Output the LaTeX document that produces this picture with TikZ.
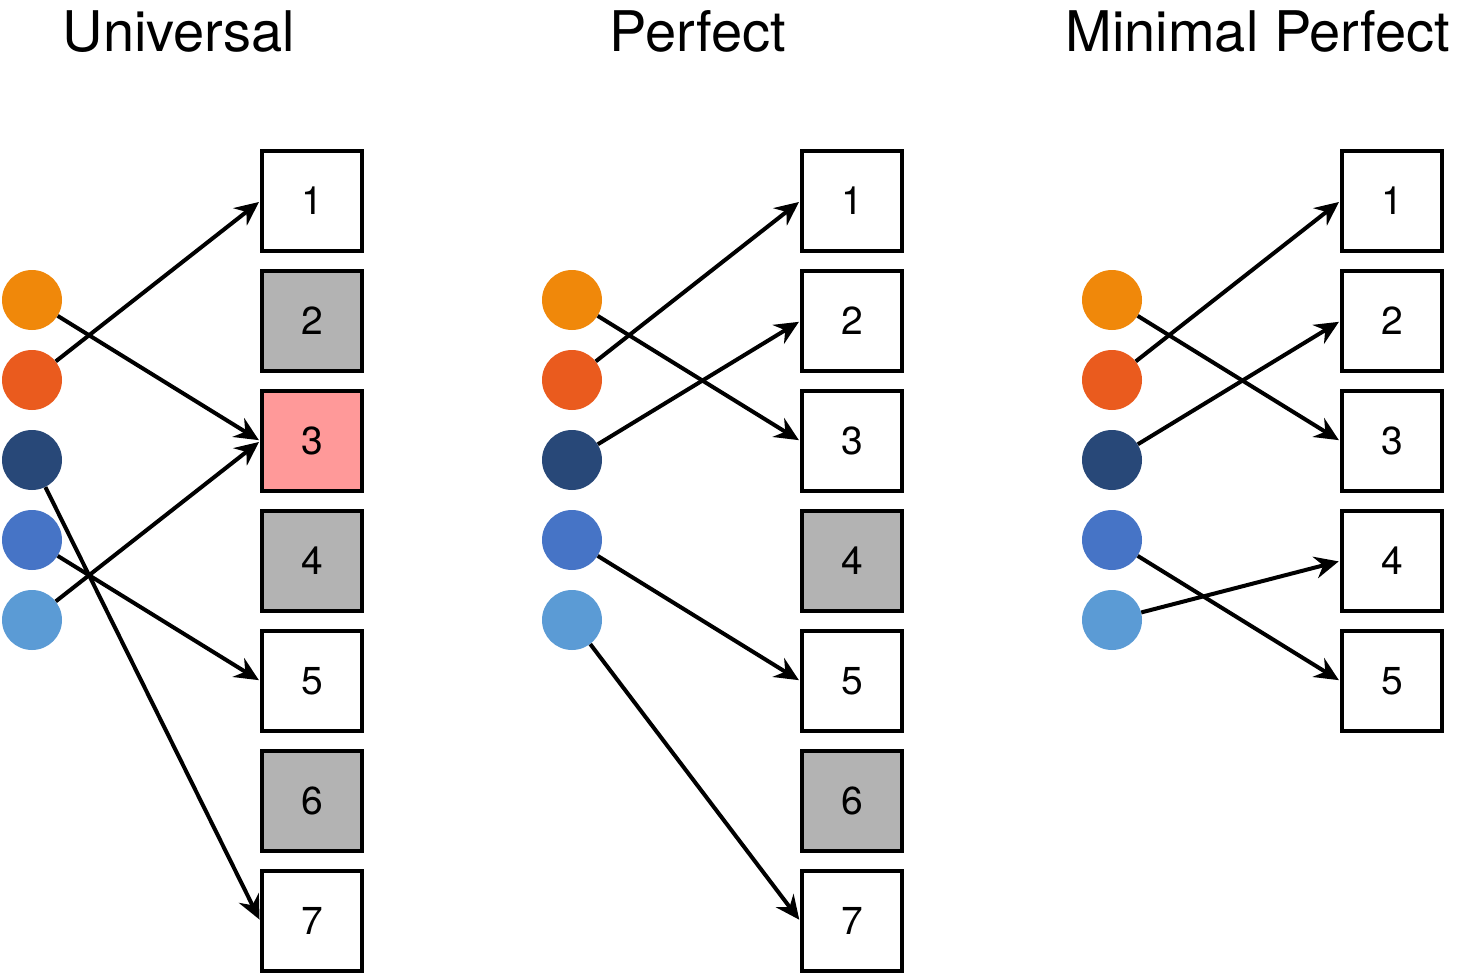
\documentclass[tikz,border=0pt]{standalone}
\usepackage{fontspec}
\setmainfont{TeX Gyre Heros}
\usetikzlibrary{arrows.meta}
\definecolor{cOrange}{HTML}{F0880A}
\definecolor{cRed}{HTML}{EA5B1E}
\definecolor{cNavy}{HTML}{284878}
\definecolor{cBlue}{HTML}{4674C6}
\definecolor{cLight}{HTML}{5B9BD5}
\definecolor{slotGray}{HTML}{B3B3B3}
\definecolor{slotPink}{HTML}{FF9999}
\tikzset{
  key/.style={circle, minimum size=60pt, inner sep=0pt, fill=#1},
  slot/.style={draw=black, line width=3.5pt, fill=#1, minimum size=100pt, inner sep=0pt,
               font=\fontsize{39}{40}\selectfont},
  slot/.default=white,
  title/.style={anchor=base, font=\fontsize{56}{60}\selectfont},
  map/.style={line width=4pt, shorten >=1.6pt,
              -{Stealth[length=24pt,width=22pt,inset=8pt]}},
}
\begin{document}
\begin{tikzpicture}[x=1pt,y=-1pt]
\useasboundingbox (0,0) rectangle (1464,974);

% titles
\node[title] (tU) at (179,52) {Universal};
\node[title] (tP) at (698,52) {Perfect};
\node[title] (tM) at (1258,52) {Minimal Perfect};

% keys of each panel
\foreach \p/\x in {U/32, P/572, M/1112} {
  \node[key=cOrange] (\p k1) at (\x,300) {};
  \node[key=cRed]    (\p k2) at (\x,380) {};
  \node[key=cNavy]   (\p k3) at (\x,460) {};
  \node[key=cBlue]   (\p k4) at (\x,540) {};
  \node[key=cLight]  (\p k5) at (\x,620) {};
}

% Universal table
\node[slot]          (Ub1) at (312,201) {1};
\node[slot=slotGray] (Ub2) at (312,321) {2};
\node[slot=slotPink] (Ub3) at (312,441) {3};
\node[slot=slotGray] (Ub4) at (312,561) {4};
\node[slot]          (Ub5) at (312,681) {5};
\node[slot=slotGray] (Ub6) at (312,801) {6};
\node[slot]          (Ub7) at (312,921) {7};

% Perfect table
\node[slot]          (Pb1) at (852,201) {1};
\node[slot]          (Pb2) at (852,321) {2};
\node[slot]          (Pb3) at (852,441) {3};
\node[slot=slotGray] (Pb4) at (852,561) {4};
\node[slot]          (Pb5) at (852,681) {5};
\node[slot=slotGray] (Pb6) at (852,801) {6};
\node[slot]          (Pb7) at (852,921) {7};

% Minimal perfect table
\node[slot] (Mb1) at (1392,201) {1};
\node[slot] (Mb2) at (1392,321) {2};
\node[slot] (Mb3) at (1392,441) {3};
\node[slot] (Mb4) at (1392,561) {4};
\node[slot] (Mb5) at (1392,681) {5};

% mappings
\draw[map] (Uk1) -- (Ub3.west);
\draw[map] (Uk2) -- (Ub1.west);
\draw[map] (Uk3) -- (Ub7.west);
\draw[map] (Uk4) -- (Ub5.west);
\draw[map] (Uk5) -- (Ub3.west);

\draw[map] (Pk1) -- (Pb3.west);
\draw[map] (Pk2) -- (Pb1.west);
\draw[map] (Pk3) -- (Pb2.west);
\draw[map] (Pk4) -- (Pb5.west);
\draw[map] (Pk5) -- (Pb7.west);

\draw[map] (Mk1) -- (Mb3.west);
\draw[map] (Mk2) -- (Mb1.west);
\draw[map] (Mk3) -- (Mb2.west);
\draw[map] (Mk4) -- (Mb5.west);
\draw[map] (Mk5) -- (Mb4.west);
\end{tikzpicture}
\end{document}
